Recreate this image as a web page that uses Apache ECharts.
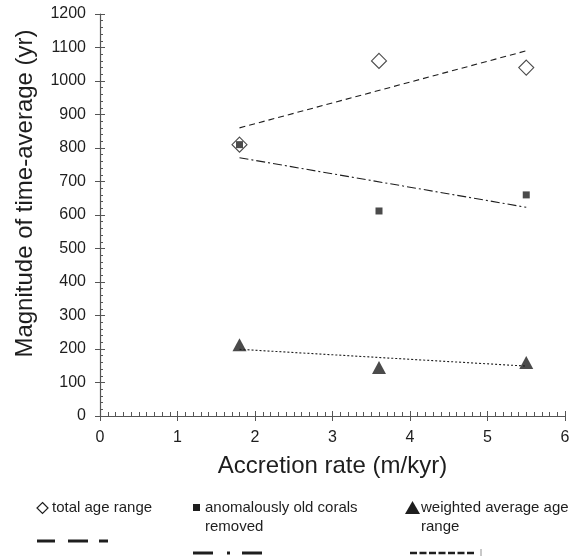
<!DOCTYPE html>
<html style="height: 100%">
<head>
<meta charset="utf-8">
</head>
<body style="height: 100%; width: 100%; margin: 0; background: #fff">
<div id="container" style="height: 100%; width: 100%;"></div>
<script src="https://cdn.jsdelivr.net/npm/echarts@6/dist/echarts.min.js"></script>
<script type="text/javascript">
// accretion rate (m/kyr)
var rates = [1.8, 3.6, 5.5];
var totalRange = [810, 1060, 1040];
var oldRemoved = [810, 612, 660];
var weighted = [213, 145, 160];
// trend line ends
var trendX = [1.8, 5.5];
var totalTrend = [860, 1090];
var oldTrend = [771, 623];
var weightedTrend = [199, 149];

function pairs(xs, ys) {
	var out = [];
	for (var i = 0; i < xs.length; i++) out.push([xs[i], ys[i]]);
	return out;
}

var font = 'Liberation Sans, Arial, sans-serif';
var axisColor = '#555';
var ink = '#1e1e1e';
var dom = document.getElementById('container');
var myChart = echarts.init(dom);

function trend(ys, dash) {
	return {
		type: 'line', data: pairs(trendX, ys), symbol: 'none', silent: true, z: 1,
		lineStyle: { color: ink, width: 1.1, type: dash }
	};
}
function plain(v) { return String(v); }

// legend bits (not data)
function legendText(x, y, txt) {
	return { type: 'text', x: x, y: y, style: { text: txt, font: '15px ' + font, fill: ink, verticalAlign: 'middle' } };
}
function seg(x1, x2, y, w, dash) {
	return { type: 'line', shape: { x1: x1, y1: y, x2: x2, y2: y }, style: { stroke: ink, lineWidth: w, lineDash: dash || null } };
}

var option = {
	animation: false,
	backgroundColor: '#fff',
	grid: { left: 100, right: 23, top: 14, bottom: 143 },
	xAxis: [{
		type: 'value', min: 0, max: 6, interval: 1,
		name: 'Accretion rate (m/kyr)', nameLocation: 'middle', nameGap: 38,
		nameTextStyle: { fontFamily: font, fontSize: 24, color: ink },
		axisLine: { lineStyle: { color: axisColor, width: 1.2 } },
		axisTick: { inside: true, length: 5, lineStyle: { color: axisColor } },
		minorTick: { show: true, splitNumber: 10, length: 4, lineStyle: { color: axisColor } },
		axisLabel: { show: false },
		splitLine: { show: false }
	}, {
		type: 'value', min: 0, max: 6, interval: 1, position: 'bottom',
		axisLine: { show: false },
		axisTick: { inside: false, length: 5, lineStyle: { color: axisColor } },
		axisLabel: { fontFamily: font, fontSize: 16, color: ink, margin: 14, formatter: plain },
		splitLine: { show: false }
	}],
	yAxis: [{
		type: 'value', min: 0, max: 1200, interval: 100,
		name: 'Magnitude of time-average (yr)', nameLocation: 'middle', nameGap: 63,
		nameTextStyle: { fontFamily: font, fontSize: 24, color: ink, padding: [0, 0, 0, 43] },
		axisLine: { lineStyle: { color: axisColor, width: 1.2 } },
		axisTick: { inside: true, length: 5, lineStyle: { color: axisColor } },
		minorTick: { show: true, splitNumber: 5, length: 3, lineStyle: { color: axisColor } },
		axisLabel: { show: false },
		splitLine: { show: false }
	}, {
		type: 'value', min: 0, max: 1200, interval: 100, position: 'left',
		axisLine: { show: false },
		axisTick: { inside: false, length: 5, lineStyle: { color: axisColor } },
		axisLabel: { fontFamily: font, fontSize: 16, color: ink, margin: 14, formatter: plain },
		splitLine: { show: false }
	}],
	series: [
		trend(totalTrend, [6, 4]),
		trend(oldTrend, [9, 3, 2, 3]),
		trend(weightedTrend, [2, 2]),
		{
			type: 'scatter', data: pairs(rates, totalRange), symbol: 'diamond', symbolSize: 15, z: 3,
			itemStyle: { color: '#fff', borderColor: ink, borderWidth: 1.1 }
		},
		{
			type: 'scatter', data: pairs(rates, oldRemoved), symbol: 'rect', symbolSize: 7, z: 4,
			itemStyle: { color: ink }
		},
		{
			type: 'scatter', data: pairs(rates, weighted), symbol: 'triangle', symbolSize: [14, 13], z: 4,
			itemStyle: { color: ink }
		}
	],
	graphic: [
		{ type: 'polygon', shape: { points: [[42.5, 502.5], [48, 508], [42.5, 513.5], [37, 508]] }, style: { fill: 'none', stroke: ink, lineWidth: 1.2 } },
		legendText(52, 508, 'total age range'),
		seg(37, 55, 541, 3), seg(68, 88, 541, 3), seg(99, 108, 541, 3),

		{ type: 'rect', shape: { x: 193, y: 504, width: 7, height: 7 }, style: { fill: ink } },
		legendText(205, 508, 'anomalously old corals'),
		legendText(205, 527, 'removed'),
		seg(193, 213, 553, 3), seg(227, 230, 553, 3), seg(242, 262, 553, 3),

		{ type: 'polygon', shape: { points: [[412.5, 501], [420, 514], [405, 514]] }, style: { fill: ink } },
		legendText(421, 508, 'weighted average age'),
		legendText(421, 527, 'range'),
		seg(410, 476, 553, 2.5, [7, 2.5]),
		{ type: 'line', shape: { x1: 481, y1: 549, x2: 481, y2: 556 }, style: { stroke: '#777', lineWidth: 0.8 } }
	]
};

myChart.setOption(option);
</script>
</body>
</html>
